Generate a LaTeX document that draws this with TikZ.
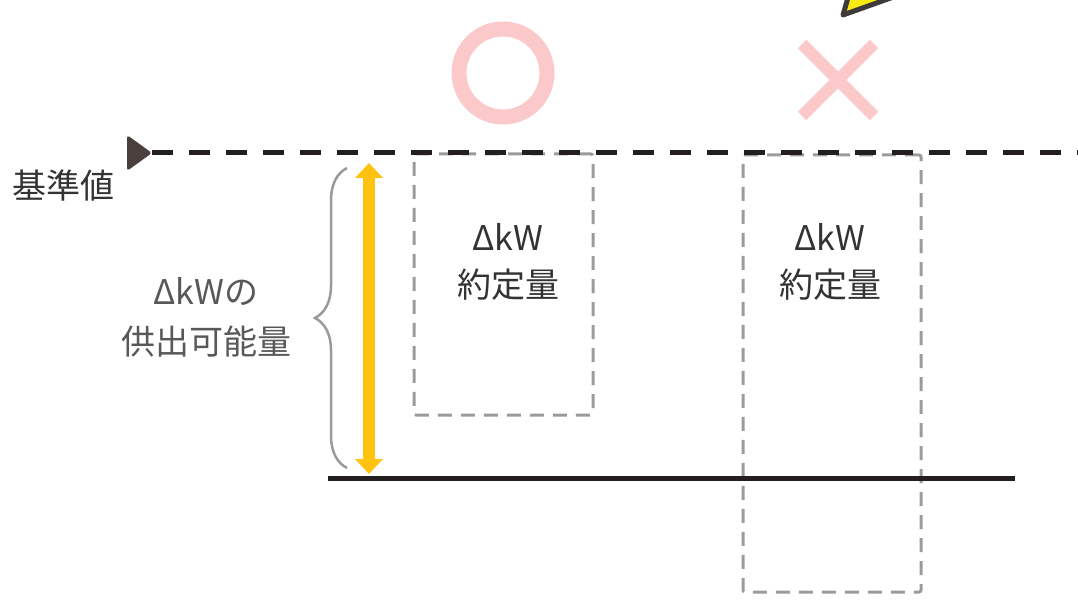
\documentclass[tikz,border=0pt]{standalone}
\usepackage{fontspec}
\setmainfont{Noto Sans CJK JP}
\usetikzlibrary{positioning, arrows.meta, decorations.pathreplacing}
\definecolor{linedark}{HTML}{231F20}
\definecolor{markdark}{HTML}{4A3F3C}
\definecolor{boxgray}{HTML}{9B9B9B}
\definecolor{bracegray}{HTML}{9A9A9A}
\definecolor{textdark}{HTML}{333333}
\definecolor{textgray}{HTML}{595757}
\definecolor{markpink}{HTML}{FBC9CA}
\definecolor{arrowyellow}{HTML}{FFC20E}
\definecolor{boltyellow}{HTML}{F8EA12}
\definecolor{boltdark}{HTML}{3E3A39}
\tikzset{
txtlabel/.style={
  font=\fontsize{34}{47}\selectfont,
  align=center,
  inner sep=0pt,
  text=textdark
  },
bidbox/.style={draw=boxgray, line width=3pt, dash pattern=on 14pt off 9pt, rounded corners=2pt},
refline/.style={draw=linedark, line width=5pt, dash pattern=on 21pt off 16pt},
floorline/.style={draw=linedark, line width=5pt},
supplyarrow/.style={draw=arrowyellow, line width=12pt, {Triangle[width=27pt,length=15pt]}-{Triangle[width=27pt,length=15pt]}},
rangebrace/.style={draw=bracegray, line width=2.5pt, decorate, decoration={brace, amplitude=32pt}},
okmark/.style={circle, draw=markpink, line width=15pt, minimum size=88pt, inner sep=0pt},
ngmark/.style={draw=markpink, line width=12pt}
}

\begin{document}
\begin{tikzpicture}[x=1pt, y=-1pt]
\useasboundingbox (0,0) rectangle (1078,604);
\clip (0,0) rectangle (1078,604);

% bid boxes
\node[bidbox, minimum width=179pt, minimum height=261pt]	(box1)	at (503.5,284.5)	{};
\node[bidbox, minimum width=178pt, minimum height=437pt]	(box2)	at (832,373.5)		{};
\node[txtlabel]	(bid1)	at (508,262)	{ΔkW\\約定量};
\node[txtlabel]	(bid2)	at (830,262)	{ΔkW\\約定量};

% base line and floor line
\coordinate	(start)	at (152,153);
\coordinate	(refend)	at (1090,153);
\fill[markdark, rounded corners=3pt] (127,135) -- (start) -- (127,171) -- cycle;
\draw[refline]	(start) -- (refend);
\node[txtlabel, anchor=west]	(base)	at (12,186)	{基準値};

\coordinate	(floorl)	at (328,478);
\coordinate	(floorr)	at (1015,478);
\draw[floorline]	(floorl) -- (floorr);

% available amount
\coordinate	(rangetop)	at (369,163);
\coordinate	(rangebot)	at (369,474);
\draw[supplyarrow]	(rangebot) -- (rangetop);
\coordinate	(braceb)	at (347,468);
\coordinate	(bracet)	at (347,168);
\draw[rangebrace]	(braceb) -- (bracet);
\node[txtlabel, text=textgray, font=\fontsize{34}{50}\selectfont]	(avail)	at (206,317)	{ΔkWの\\供出可能量};

% marks
\node[okmark]	(ok)	at (503,73)	{};
\coordinate	(ng)	at (838,80);
\draw[ngmark]	([shift={(-36,-36)}]ng) -- ([shift={(36,36)}]ng);
\draw[ngmark]	([shift={(-36,36)}]ng) -- ([shift={(36,-36)}]ng);
\filldraw[fill=boltyellow, draw=boltdark, line width=5pt, line join=round] (843,15) -- (853,-20) -- (941,-20) -- cycle;
\end{tikzpicture}
\end{document}
